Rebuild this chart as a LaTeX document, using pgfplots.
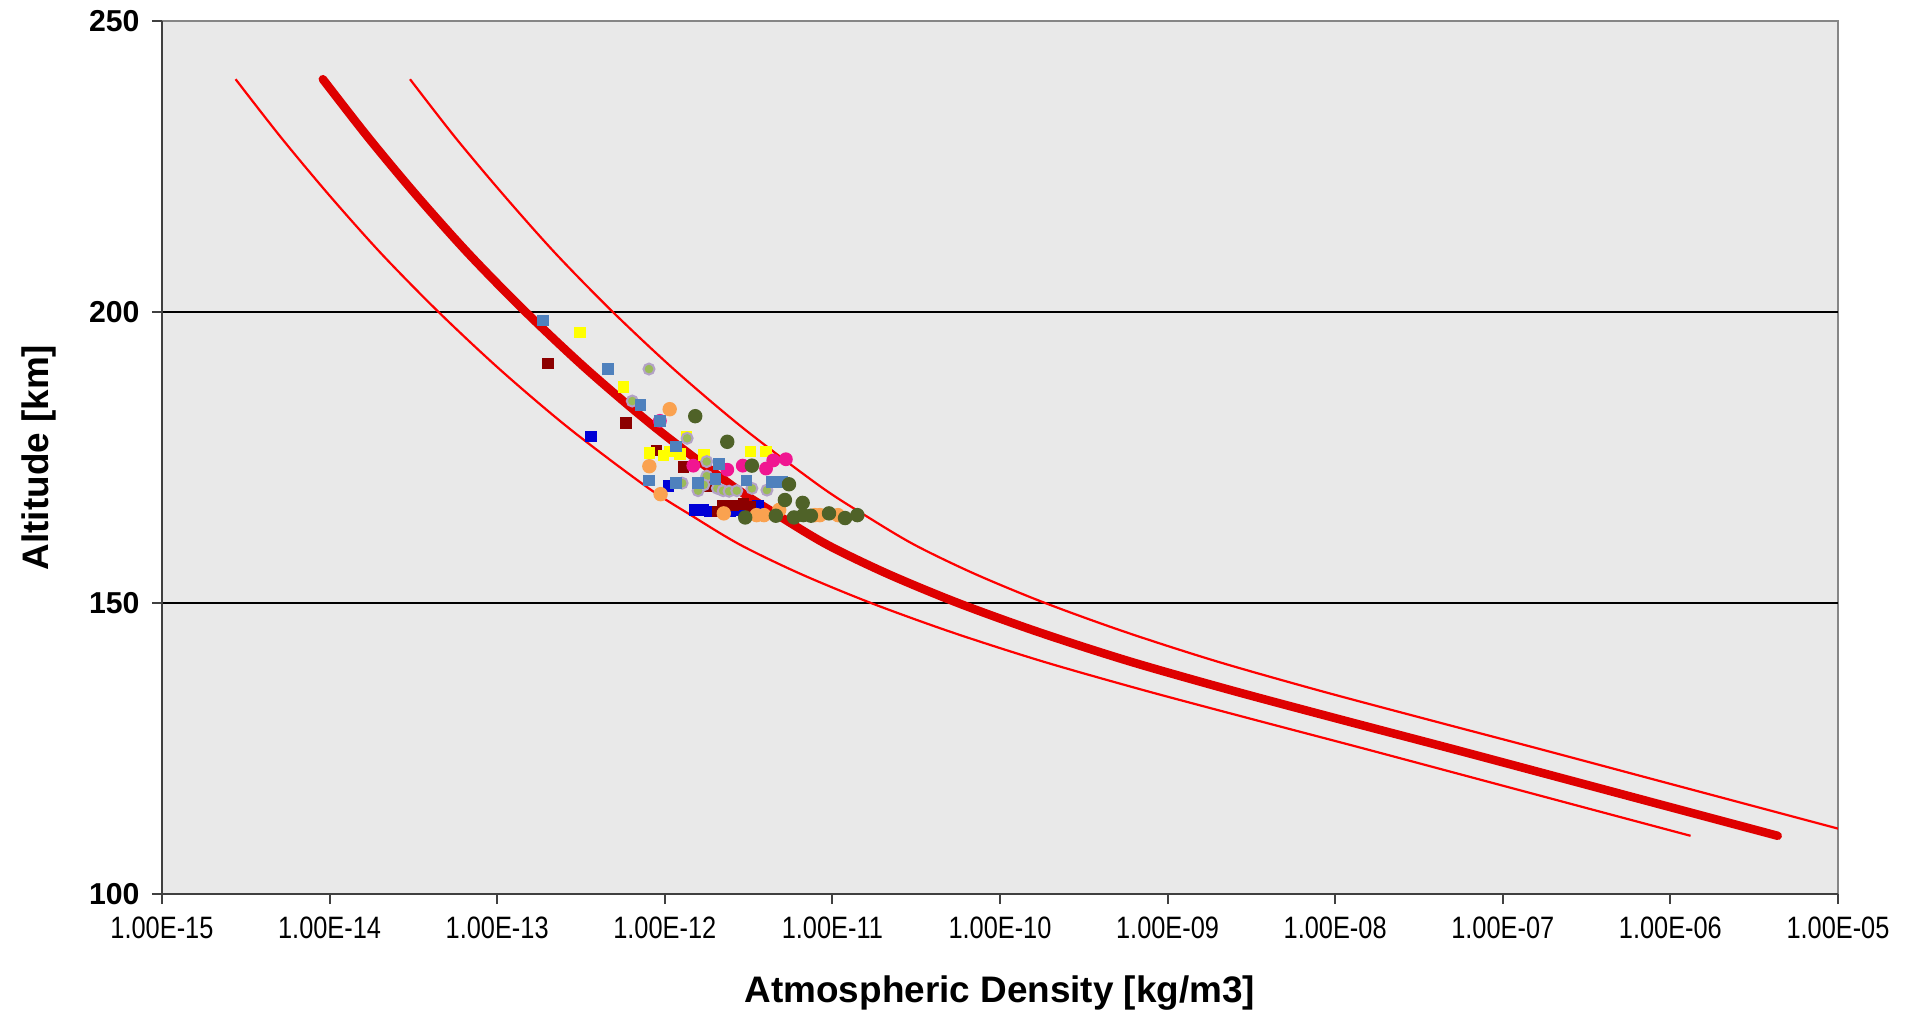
\documentclass[border=0pt]{standalone}
\usepackage{fontspec}
\setmainfont{Liberation Sans}
\newfontfamily\narrowsans[FakeStretch=0.82]{Liberation Sans}
\usepackage{pgfplots}
\pgfplotsset{compat=1.18}

\definecolor{plotbg}{RGB}{233,233,233}
\definecolor{framegray}{RGB}{134,134,134}
\definecolor{axisdark}{RGB}{64,64,64}
\definecolor{modelred}{RGB}{222,0,0}
\definecolor{boundred}{RGB}{255,0,0}
\definecolor{sBlue}{RGB}{0,0,214}
\definecolor{sDarkRed}{RGB}{140,0,0}
\definecolor{sLightBlue}{HTML}{4F81BD}
\definecolor{sYellow}{RGB}{255,255,0}
\definecolor{sMagenta}{RGB}{240,22,145}
\definecolor{sOrange}{RGB}{250,162,80}
\definecolor{sOlive}{HTML}{4F6228}
\definecolor{sGreen}{HTML}{9BBB59}
\definecolor{sLavender}{HTML}{B3A2C7}

\begin{document}
\begin{tikzpicture}
\begin{axis}[
  scale only axis,
  width=167.6mm, height=87.3mm,
  xmode=log,
  xmin=1e-15, xmax=1e-5,
  ymin=100, ymax=250,
  axis background/.style={fill=plotbg, draw=framegray, line width=0.15mm},
  axis lines*=left,
  axis line style={-, draw=axisdark, line width=0.25mm},
  tick align=outside,
  major tick length=1mm,
  tick style={axisdark, line width=0.2mm},
  xminorticks=false, yminorticks=false,
  xtick={1e-15,1e-14,1e-13,1e-12,1e-11,1e-10,1e-9,1e-8,1e-7,1e-6,1e-5},
  xticklabels={1.00E-15,1.00E-14,1.00E-13,1.00E-12,1.00E-11,1.00E-10,1.00E-09,1.00E-08,1.00E-07,1.00E-06,1.00E-05},
  xticklabel style={font=\narrowsans\fontsize{8.8}{10}\selectfont},
  ytick={150,200},
  yticklabels={\textbf{150},\textbf{200}},
  extra y ticks={100,250},
  extra y tick labels={\textbf{100},\textbf{250}},
  extra y tick style={grid=none},
  yticklabel style={font=\fontsize{8.6}{10}\selectfont},
  ymajorgrids,
  grid style={black, line width=0.2mm},
  xlabel={Atmospheric Density [kg/m3]},
  ylabel={Altitude [km]},
  label style={font=\bfseries\fontsize{10.5}{12}\selectfont},
  xlabel style={at={([yshift=-9.9mm]axis description cs:0.5,0)}, anchor=center},
  ylabel style={at={([xshift=-12.3mm]axis description cs:0,0.5)}, anchor=center},
]

% lower bound of the model density
\addplot[boundred, line width=0.22mm, smooth] coordinates {
  (2.75e-15,240) (5.13e-15,230) (1.00e-14,220) (2.04e-14,210) (4.47e-14,200)
  (1.05e-13,190) (2.69e-13,180) (7.76e-13,170) (1.45e-12,165) (2.82e-12,160)
  (6.46e-12,155) (1.70e-11,150) (5.13e-11,145) (1.78e-10,140) (7.24e-10,135)
  (3.24e-9,130) (1.48e-8,125) (6.61e-8,120) (2.95e-7,115) (1.32e-6,110)
};
% upper bound of the model density
\addplot[boundred, line width=0.22mm, smooth] coordinates {
  (3.02e-14,240) (5.62e-14,230) (1.10e-13,220) (2.24e-13,210) (4.90e-13,200)
  (1.15e-12,190) (2.95e-12,180) (8.51e-12,170) (1.58e-11,165) (3.09e-11,160)
  (7.08e-11,155) (1.86e-10,150) (5.62e-10,145) (1.95e-9,140) (7.94e-9,135)
  (3.55e-8,130) (1.62e-7,125) (7.24e-7,120) (3.24e-6,115) (1.45e-5,110)
};
% model density
\addplot[modelred, line width=0.85mm, line cap=round, line join=round, smooth] coordinates {
  (9.12e-15,240) (1.70e-14,230) (3.31e-14,220) (6.76e-14,210) (1.48e-13,200)
  (3.47e-13,190) (8.91e-13,180) (2.57e-12,170) (4.79e-12,165) (9.33e-12,160)
  (2.14e-11,155) (5.62e-11,150) (1.70e-10,145) (5.89e-10,140) (2.40e-9,135)
  (1.07e-8,130) (4.90e-8,125) (2.19e-7,120) (9.77e-7,115) (4.37e-6,110)
};

% measured densities
\addplot[only marks, mark=square*, mark size=0.5mm, color=sBlue] coordinates {
  (3.64e-13,178.6) (1.05e-12,170.1) (1.51e-12,166.0) (1.70e-12,166.0)
  (1.86e-12,165.7) (2.45e-12,165.7) (2.82e-12,166.0) (3.61e-12,166.8)
};
\addplot[only marks, mark=square*, mark size=0.5mm, color=sDarkRed] coordinates {
  (2.01e-13,191.2) (5.86e-13,180.9) (8.95e-13,176.2) (1.29e-12,173.4)
  (1.82e-12,170.0) (2.06e-12,165.7) (2.23e-12,166.8) (2.57e-12,166.8)
  (2.95e-12,167.0) (3.24e-12,166.5)
};
\addplot[only marks, mark=square*, mark size=0.5mm, color=sYellow] coordinates {
  (3.12e-13,196.5) (5.69e-13,187.1) (1.35e-12,178.6) (8.09e-13,175.8)
  (9.82e-13,175.3) (1.07e-12,176.0) (1.23e-12,175.6) (1.71e-12,175.4)
  (3.24e-12,176.0) (4.02e-12,176.0)
};
\addplot[only marks, mark=*, mark size=0.62mm, color=sMagenta] coordinates {
  (9.35e-13,181.3) (1.48e-12,173.6) (2.36e-12,172.9) (2.92e-12,173.6)
  (4.02e-12,173.1) (4.44e-12,174.5) (5.28e-12,174.7)
};
\addplot[only marks, mark=*, mark size=0.55mm, color=sLavender, mark options={fill=sGreen, line width=0.2mm}] coordinates {
  (8.05e-13,190.2) (6.40e-13,184.7) (1.36e-12,178.3) (1.78e-12,174.3)
  (1.78e-12,171.8) (1.27e-12,170.6) (1.71e-12,170.3) (1.58e-12,169.3)
  (2.06e-12,169.7) (2.23e-12,169.3) (2.42e-12,169.2) (2.69e-12,169.3)
  (3.31e-12,169.7) (4.07e-12,169.4)
};
\addplot[only marks, mark=square*, mark size=0.5mm, color=sLightBlue] coordinates {
  (1.88e-13,198.5) (4.58e-13,190.2) (7.14e-13,184.0) (9.35e-13,181.3)
  (1.17e-12,176.9) (8.05e-13,171.0) (1.17e-12,170.6) (1.58e-12,170.6)
  (2.11e-12,173.9) (2.00e-12,171.3) (3.08e-12,171.0) (4.34e-12,170.8)
  (5.01e-12,170.8)
};
\addplot[only marks, mark=*, mark size=0.65mm, color=sOrange] coordinates {
  (1.07e-12,183.3) (8.09e-13,173.5) (9.44e-13,168.7) (2.25e-12,165.4)
  (3.53e-12,165.1) (3.91e-12,165.1) (4.82e-12,166.0) (7.87e-12,165.1)
  (8.43e-12,165.1) (1.08e-11,165.1)
};
\addplot[only marks, mark=*, mark size=0.65mm, color=sOlive] coordinates {
  (1.52e-12,182.1) (2.36e-12,177.7) (3.31e-12,173.6) (5.51e-12,170.4)
  (5.21e-12,167.7) (6.65e-12,167.2) (3.02e-12,164.7) (4.60e-12,165.0)
  (5.90e-12,164.7) (6.70e-12,165.1) (7.45e-12,165.0) (9.55e-12,165.4)
  (1.19e-11,164.6) (1.41e-11,165.1)
};
\end{axis}
\pgfresetboundingbox
\path[use as bounding box] (-16.2mm,-12.1mm) rectangle (174.9mm,89.4mm);
\end{tikzpicture}
\end{document}
